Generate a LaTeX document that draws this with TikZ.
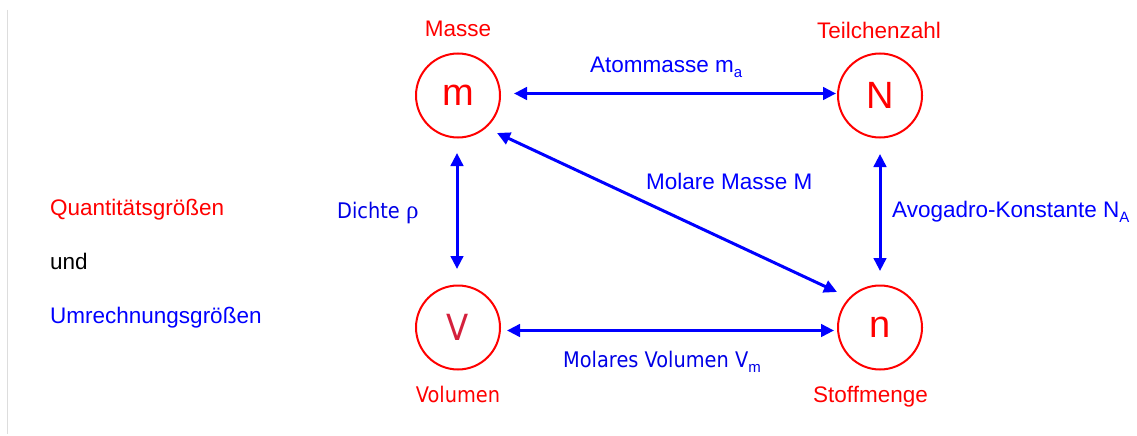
\documentclass[tikz,border=0pt]{standalone}
\usepackage{fontspec}
\setmainfont{Liberation Sans}
\newfontfamily\tah[FakeStretch=0.9]{DejaVu Sans}
\newfontfamily\grk{Liberation Serif}
\usetikzlibrary{arrows.meta}
\definecolor{qred}{HTML}{FF0000}
\definecolor{qblue}{HTML}{0000FF}
\definecolor{lblue}{HTML}{0000E6}
\definecolor{vred}{HTML}{D4203C}
\definecolor{rule}{HTML}{DDDDDD}
\newcommand{\sz}[1]{\fontsize{#1}{#1}\selectfont}
\newcommand{\subs}[1]{\raisebox{-5pt}{\sz{15}#1}}
\tikzset{
  qty/.style={circle, draw=qred, line width=2pt, minimum size=84pt, inner sep=0pt,
              text=qred, font=\sz{38}},
  link/.style={draw=qblue, line width=3pt,
               {Triangle[length=13pt,width=12.5pt]}-{Triangle[length=13pt,width=12.5pt]}},
  lbl/.style={inner sep=0pt, font=\sz{22.5}},
  tlbl/.style={inner sep=0pt, font=\tah\sz{21.5}},
}
\begin{document}
\begin{tikzpicture}[x=1pt, y=-1pt]
  \fill[white] (0,0) rectangle (1137,436);
  \useasboundingbox (0,0) rectangle (1137,436);

  % thin rule along the left margin
  \draw[rule, line width=1pt] (7.5,10) coordinate (r1) -- (7.5,434) coordinate (r2);

  % legend on the left
  \node[lbl, anchor=base west, text=qred]  (leg1) at (50,215) {Quantitätsgrößen};
  \node[lbl, anchor=base west, text=black] (leg2) at (50,269) {und};
  \node[lbl, anchor=base west, text=qblue] (leg3) at (50,323) {Umrechnungsgrößen};

  % the four quantities
  \node[qty] (m) at (458,95.5) {m};
  \node[qty] (N) at (880,95.5) {N};
  \node[qty, text=vred, font=\tah\sz{36}] (V) at (458,327.5) {V};
  \node[qty] (n) at (880,327.5) {n};

  % names of the quantities
  \node[lbl, anchor=base, text=qred] (tm) at (458,37) {Masse};
  \node[lbl, anchor=base, text=qred] (tN) at (879,38) {Teilchenzahl};
  \node[tlbl, anchor=base, text=qred] (tV) at (458,402) {Volumen};
  \node[lbl, anchor=base, text=qred] (tn) at (870.5,402) {Stoffmenge};

  % conversion quantities
  \draw[link] ([shift={(13,-2)}]m.east) -- ([shift={(-1,-2)}]N.west);
  \draw[link] ([shift={(6,3)}]V.east) -- ([shift={(-3,3)}]n.west);
  \draw[link] ([shift={(-1,14.5)}]m.south) -- ([shift={(-1,-15.5)}]V.north);
  \draw[link] ([shift={(0,15.5)}]N.south) -- ([shift={(0,-13.5)}]n.north);
  \draw[link] ([shift={(39,37.5)}]m.center) -- ([shift={(-43,-35.5)}]n.center);

  \node[lbl, anchor=base west, text=qblue] (lma) at (590,73) {Atommasse m\subs{a}};
  \node[lbl, anchor=base west, text=qblue] (lmm) at (646,189) {Molare Masse M};
  \node[lbl, anchor=base west, text=qblue] (lna) at (892,217) {Avogadro-Konstante N\subs{A}};
  \node[tlbl, anchor=base west, text=lblue] (lrho) at (337,218) {Dichte {\grk\sz{25}ρ}};
  \node[tlbl, anchor=base west, text=lblue] (lvm) at (563,367) {Molares Volumen V\subs{\rmfamily m}};
\end{tikzpicture}
\end{document}
